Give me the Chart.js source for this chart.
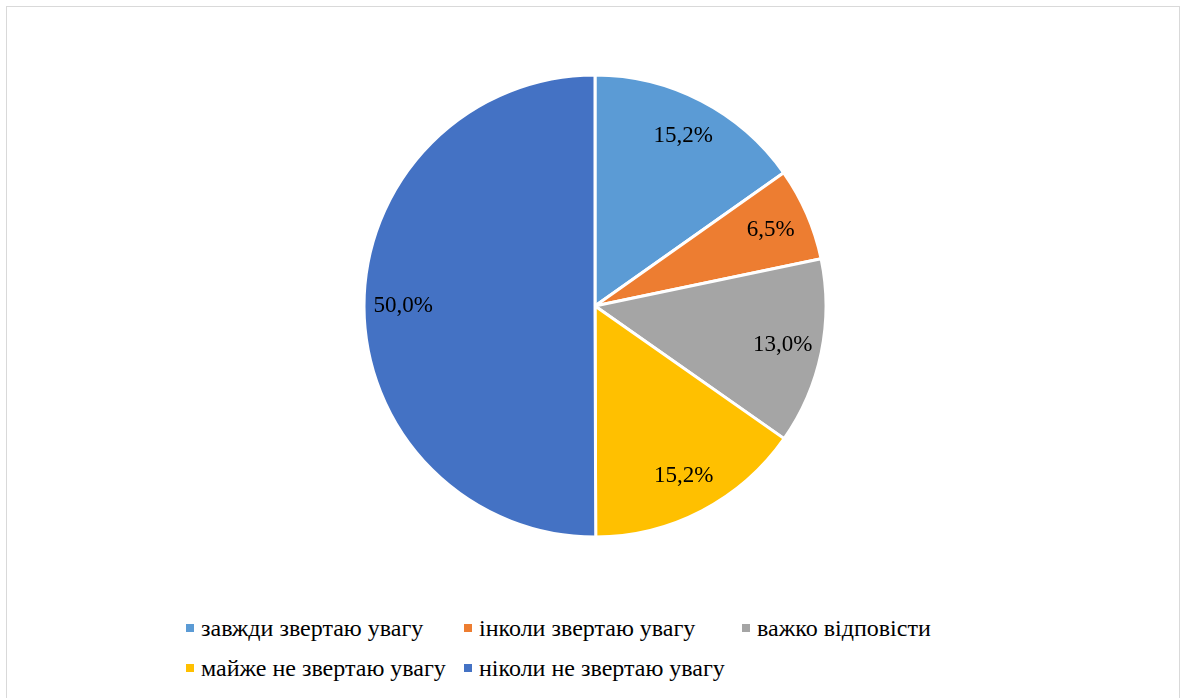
<!DOCTYPE html>
<html>
<head>
<meta charset="utf-8">
<script src="https://cdn.jsdelivr.net/npm/chart.js@4/dist/chart.umd.min.js"></script>
<style>
  body { margin: 0; background: #fff; width: 1182px; height: 698px; overflow: hidden; position: relative; }
  #frame { position: absolute; left: 6px; top: 6px; width: 1174px; height: 700px; border: 1.5px solid #d9d9d9; box-sizing: border-box; }
  #wrap { position: absolute; left: 0; top: 0; width: 1182px; height: 600px; }
  #legend { position: absolute; left: 186px; top: 614px; display: grid; grid-template-columns: 278px 278px 278px; row-gap: 12px;
            font-family: "Times New Roman", "Liberation Serif", "DejaVu Serif", serif; font-size: 24px; color: #000; }
  #legend div { display: flex; align-items: center; white-space: nowrap; height: 28px; }
  #legend span { display: inline-block; width: 8px; height: 8px; margin-right: 7px; }
</style>
</head>
<body>
<div id="frame"></div>
<div id="wrap"><canvas id="pieChart"></canvas></div>
<div id="legend"></div>
<script>
var categories = ['завжди звертаю увагу', 'інколи звертаю увагу', 'важко відповісти', 'майже не звертаю увагу', 'ніколи не звертаю увагу'];
var values = [15.2, 6.5, 13.0, 15.2, 50.0];
var colors = ['#5B9BD5', '#ED7D31', '#A5A5A5', '#FFC000', '#4472C4'];

// percent labels placed inside each slice, near the outer edge
var sliceLabels = {
    id: 'sliceLabels',
    afterDatasetsDraw: function(chart) {
        var ctx = chart.ctx;
        var meta = chart.getDatasetMeta(0);
        ctx.save();
        ctx.font = '23px "Times New Roman", "Liberation Serif", "DejaVu Serif", serif';
        ctx.fillStyle = '#000';
        ctx.textAlign = 'center';
        ctx.textBaseline = 'middle';
        meta.data.forEach(function(arc, i) {
            var p = arc.getProps(['x', 'y', 'startAngle', 'endAngle', 'outerRadius']);
            var mid = (p.startAngle + p.endAngle) / 2;
            var r = p.outerRadius * 0.83;
            ctx.fillText(values[i].toFixed(1).replace('.', ',') + '%', p.x + Math.cos(mid) * r, p.y + Math.sin(mid) * r);
        });
        ctx.restore();
    }
};

var chart = new Chart(document.getElementById('pieChart'), {
    type: 'pie',
    data: {
        labels: categories,
        datasets: [{
            data: values,
            backgroundColor: colors,
            borderColor: '#fff',
            borderWidth: 3
        }]
    },
    options: {
        responsive: true,
        maintainAspectRatio: false,
        animation: false,
        layout: { padding: { left: 8, right: 0, top: 73.5, bottom: 61.5 } },
        plugins: {
            legend: { display: false },
            tooltip: { enabled: false }
        }
    },
    plugins: [sliceLabels]
});

var legendHtml = '';
categories.forEach(function(c, i) {
    legendHtml += '<div><span style="background:' + colors[i] + '"></span>' + c + '</div>';
});
document.getElementById('legend').innerHTML = legendHtml;
</script>
</body>
</html>
